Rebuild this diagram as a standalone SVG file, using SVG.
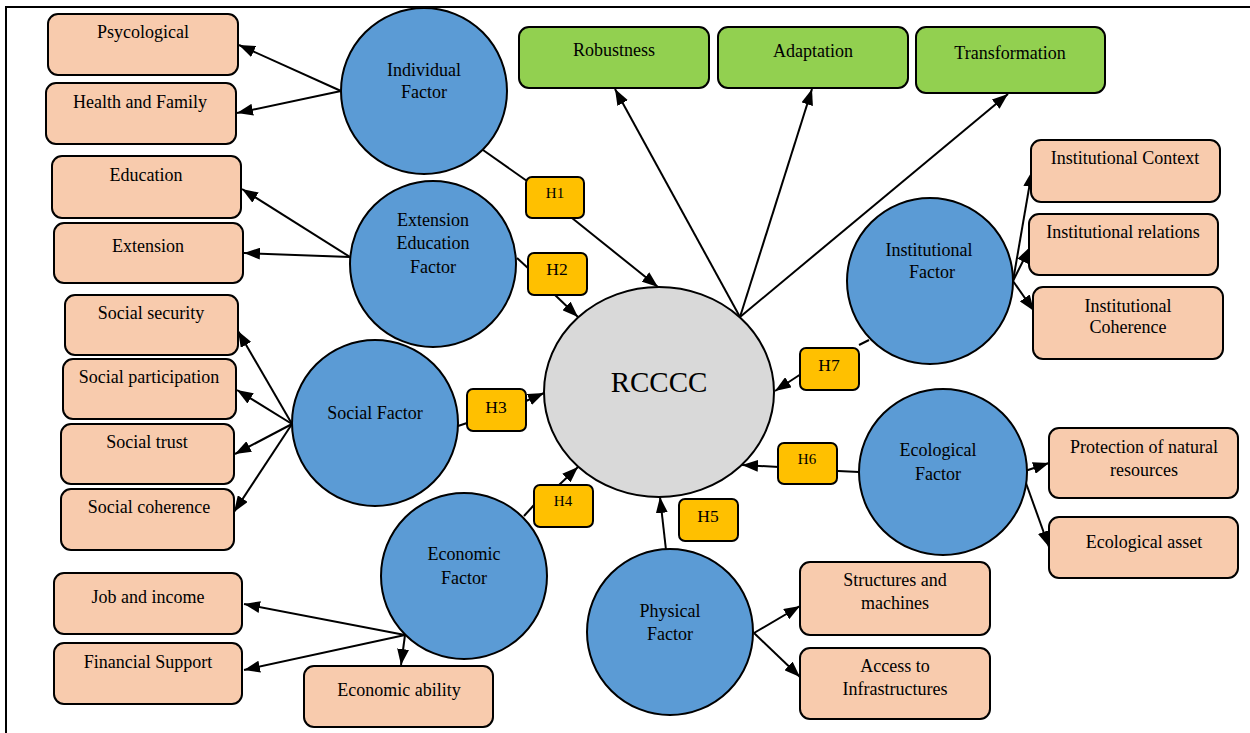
<svg xmlns="http://www.w3.org/2000/svg" width="1250" height="733" viewBox="0 0 1250 733">
<style>
text{font-family:"Liberation Serif","Times New Roman",serif;font-size:18px;fill:#000;text-anchor:middle}
.box{fill:#F8CBAD;stroke:#000;stroke-width:2}
.gbox{fill:#92D050;stroke:#000;stroke-width:2}
.hbox{fill:#FFC000;stroke:#000;stroke-width:2}
.circ{fill:#5B9BD5;stroke:#000;stroke-width:2}
.core{fill:#D9D9D9;stroke:#000;stroke-width:2}
.ln{stroke:#000;stroke-width:2;fill:none}
.ar{stroke:#000;stroke-width:2;fill:none;marker-end:url(#ah)}
.hs{font-size:15px}
.hl{font-size:17.5px}
</style>
<defs>
<marker id="ah" viewBox="0 0 16 12" refX="16" refY="6" markerWidth="16" markerHeight="12" markerUnits="userSpaceOnUse" orient="auto">
<path d="M0,0 L16,6 L0,12 z" fill="#000"/>
</marker>
</defs>
<rect width="1250" height="733" fill="#fff"/>
<path d="M6,733 V7 H1250" stroke="#000" stroke-width="2" fill="none"/>

<g id="connectors">
<line class="ar" x1="341" y1="91" x2="239" y2="45"/>
<line class="ar" x1="341" y1="91" x2="237" y2="113"/>
<line class="ar" x1="350" y1="257" x2="242" y2="189"/>
<line class="ar" x1="350" y1="257" x2="244" y2="253"/>
<line class="ar" x1="292" y1="424" x2="238" y2="331"/>
<line class="ar" x1="292" y1="424" x2="237" y2="390"/>
<line class="ar" x1="292" y1="424" x2="235" y2="454"/>
<line class="ar" x1="292" y1="424" x2="234" y2="512"/>
<line class="ar" x1="405" y1="635" x2="244" y2="604"/>
<line class="ar" x1="405" y1="635" x2="244" y2="670"/>
<line class="ar" x1="405" y1="635" x2="401" y2="665"/>
<line class="ar" x1="754" y1="633" x2="800" y2="606"/>
<line class="ar" x1="754" y1="633" x2="800" y2="677"/>
<line class="ar" x1="1022" y1="472" x2="1049" y2="463"/>
<line class="ar" x1="1022" y1="472" x2="1049" y2="547"/>
<line class="ar" x1="1013" y1="281" x2="1032" y2="171"/>
<line class="ar" x1="1013" y1="281" x2="1030" y2="247"/>
<line class="ar" x1="1013" y1="281" x2="1034" y2="311"/>
<line class="ar" x1="740" y1="317" x2="615" y2="89"/>
<line class="ar" x1="740" y1="317" x2="812" y2="89"/>
<line class="ar" x1="740" y1="317" x2="1008" y2="94"/>
<line class="ln" x1="483" y1="150" x2="527" y2="181"/>
<line class="ar" x1="572" y1="218" x2="658" y2="287"/>
<line class="ln" x1="517" y1="258" x2="529" y2="269"/>
<line class="ar" x1="555" y1="295" x2="578" y2="317"/>
<line class="ln" x1="458" y1="426" x2="467" y2="423"/>
<line class="ar" x1="526" y1="401" x2="544" y2="393"/>
<line class="ln" x1="524" y1="516" x2="534" y2="505"/>
<line class="ar" x1="559" y1="485" x2="578" y2="467"/>
<line class="ar" x1="666" y1="550" x2="660" y2="497"/>
<line class="ln" x1="859" y1="472" x2="838" y2="471"/>
<line class="ar" x1="779" y1="467" x2="742" y2="465"/>
<line class="ln" x1="869" y1="340" x2="859" y2="345"/>
<line class="ar" x1="801" y1="374" x2="775" y2="391"/>
</g>

<g id="rcccc"><ellipse class="core" cx="659" cy="392" rx="115" ry="105"/><text x="659" y="392" style="font-size:29px">RCCCC</text></g>

<g id="individual"><circle class="circ" cx="424" cy="91" r="83"/><text x="424" y="76">Individual</text><text x="424" y="98">Factor</text></g>
<g id="exted"><circle class="circ" cx="433" cy="264" r="83"/><text x="433" y="226">Extension</text><text x="433" y="249">Education</text><text x="433" y="273">Factor</text></g>
<g id="social"><circle class="circ" cx="375" cy="423" r="83"/><text x="375" y="419">Social Factor</text></g>
<g id="economic"><circle class="circ" cx="464" cy="576" r="83"/><text x="464" y="560">Economic</text><text x="464" y="584">Factor</text></g>
<g id="physical"><circle class="circ" cx="670" cy="632" r="83"/><text x="670" y="617">Physical</text><text x="670" y="640">Factor</text></g>
<g id="ecological"><ellipse class="circ" cx="943" cy="472" rx="84" ry="83"/><text x="938" y="456">Ecological</text><text x="938" y="480">Factor</text></g>
<g id="institutional"><circle class="circ" cx="930" cy="281" r="83"/><text x="929" y="256">Institutional</text><text x="932" y="278">Factor</text></g>

<g id="psy"><rect class="box" x="48" y="14" width="190" height="61" rx="10"/><text x="143" y="38">Psycological</text></g>
<g id="health"><rect class="box" x="46" y="83" width="190" height="61" rx="10"/><text x="140" y="108">Health and Family</text></g>
<g id="education"><rect class="box" x="52" y="156" width="189" height="62" rx="10"/><text x="146" y="181">Education</text></g>
<g id="extension"><rect class="box" x="54" y="223" width="189" height="60" rx="10"/><text x="148" y="252">Extension</text></g>
<g id="socsec"><rect class="box" x="65" y="295" width="173" height="60" rx="10"/><text x="151" y="319">Social security</text></g>
<g id="socpart"><rect class="box" x="63" y="359" width="173" height="60" rx="10"/><text x="149" y="383">Social participation</text></g>
<g id="soctrust"><rect class="box" x="61" y="424" width="173" height="60" rx="10"/><text x="147" y="448">Social trust</text></g>
<g id="soccoh"><rect class="box" x="61" y="489" width="173" height="61" rx="10"/><text x="149" y="513">Social coherence</text></g>
<g id="job"><rect class="box" x="54" y="573" width="188" height="61" rx="10"/><text x="148" y="603">Job and income</text></g>
<g id="fin"><rect class="box" x="54" y="643" width="188" height="61" rx="10"/><text x="148" y="668">Financial Support</text></g>
<g id="ecoab"><rect class="box" x="304" y="666" width="189" height="61" rx="10"/><text x="399" y="696">Economic ability</text></g>
<g id="struct"><rect class="box" x="800" y="562" width="190" height="73" rx="10"/><text x="895" y="586">Structures and</text><text x="895" y="609">machines</text></g>
<g id="access"><rect class="box" x="800" y="648" width="190" height="71" rx="10"/><text x="895" y="672">Access to</text><text x="895" y="695">Infrastructures</text></g>
<g id="protect"><rect class="box" x="1049" y="428" width="189" height="70" rx="10"/><text x="1144" y="453">Protection of natural</text><text x="1144" y="476">resources</text></g>
<g id="ecoasset"><rect class="box" x="1049" y="517" width="189" height="61" rx="10"/><text x="1144" y="548">Ecological asset</text></g>
<g id="instctx"><rect class="box" x="1031" y="140" width="189" height="62" rx="10"/><text x="1125" y="164">Institutional Context</text></g>
<g id="instrel"><rect class="box" x="1029" y="214" width="189" height="61" rx="10"/><text x="1123" y="238">Institutional relations</text></g>
<g id="instcoh"><rect class="box" x="1033" y="287" width="190" height="72" rx="10"/><text x="1128" y="312">Institutional</text><text x="1128" y="333">Coherence</text></g>

<g id="robust"><rect class="gbox" x="519" y="27" width="190" height="61" rx="10"/><text x="614" y="56">Robustness</text></g>
<g id="adapt"><rect class="gbox" x="718" y="27" width="190" height="61" rx="10"/><text x="813" y="57">Adaptation</text></g>
<g id="transf"><rect class="gbox" x="916" y="27" width="189" height="66" rx="10"/><text x="1010" y="59">Transformation</text></g>

<g id="h1"><rect class="hbox" x="526" y="177" width="58" height="41" rx="6"/><text class="hs" x="555" y="198">H1</text></g>
<g id="h2"><rect class="hbox" x="528" y="253" width="59" height="42" rx="6"/><text class="hl" x="557" y="275">H2</text></g>
<g id="h3"><rect class="hbox" x="467" y="389" width="59" height="42" rx="6"/><text class="hl" x="496" y="413">H3</text></g>
<g id="h4"><rect class="hbox" x="534" y="485" width="59" height="42" rx="6"/><text class="hs" x="563" y="506">H4</text></g>
<g id="h5"><rect class="hbox" x="679" y="499" width="59" height="42" rx="6"/><text class="hl" x="708" y="522">H5</text></g>
<g id="h6"><rect class="hbox" x="778" y="443" width="59" height="41" rx="6"/><text class="hs" x="807" y="464">H6</text></g>
<g id="h7"><rect class="hbox" x="800" y="348" width="59" height="42" rx="6"/><text class="hl" x="829" y="371">H7</text></g>
</svg>
